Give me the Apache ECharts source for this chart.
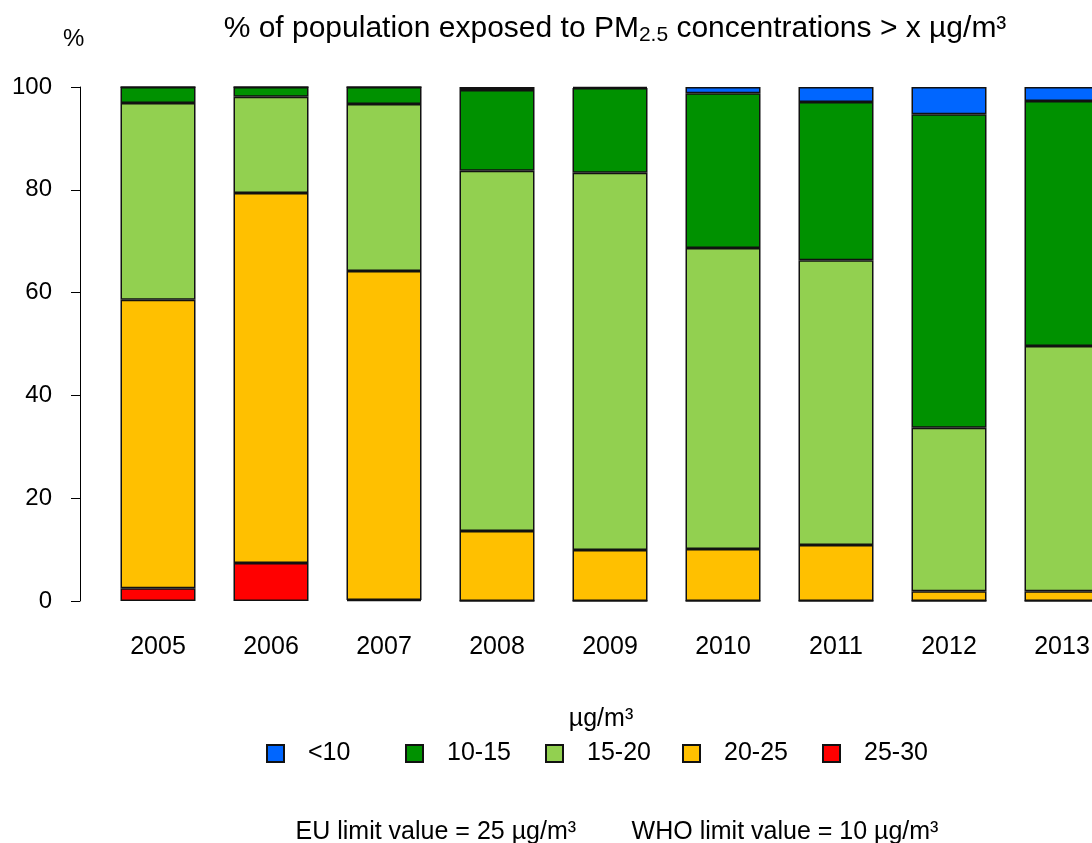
<!DOCTYPE html>
<html><head><meta charset="utf-8">
<script src="https://cdn.jsdelivr.net/npm/echarts@6/dist/echarts.min.js"></script>
<style>html,body{margin:0;padding:0;background:#fff;overflow:hidden}#c{width:1120px;height:843px}</style>
</head><body><div id="c"></div>
<script>
const years = ['2005','2006','2007','2008','2009','2010','2011','2012','2013'];
const seriesNames = ['<10','10-15','15-20','20-25','25-30'];
const lt10   = [0, 0, 0, 0.6, 0.2, 1.2, 2.9, 5.3, 2.7];
const r10_15 = [3.1, 1.9, 3.3, 15.7, 16.5, 30.1, 30.8, 61.0, 47.7];
const r15_20 = [38.3, 18.7, 32.5, 70.1, 73.4, 58.6, 55.4, 31.8, 47.7];
const r20_25 = [56.1, 72.0, 64.0, 13.6, 9.9, 10.1, 10.9, 1.9, 1.9];
const r25_30 = [2.5, 7.4, 0.2, 0, 0, 0, 0, 0, 0];
const yTicks = [0, 20, 40, 60, 80, 100];

const colors = {'<10':'#0066FF','10-15':'#009100','15-20':'#92D050','20-25':'#FFC000','25-30':'#FF0000'};
const dataByName = {'<10':lt10,'10-15':r10_15,'15-20':r15_20,'20-25':r20_25,'25-30':r25_30};
const font = 'Liberation Sans, Arial, sans-serif';

const stackOrder = ['25-30','20-25','15-20','10-15','<10'];
const series = stackOrder.map(n => ({
  name: n, type: 'bar', stack: 'all', barWidth: 75,
  data: dataByName[n],
  itemStyle: {color: colors[n], borderColor: '#111', borderWidth: 1.5},
  emphasis: {disabled: true}
}));

const legendLefts = [266, 405, 545, 682, 822];
const legends = seriesNames.map((n, i) => ({
  data: [n], left: legendLefts[i], top: 741, padding: 0, itemWidth: 17, itemHeight: 17,
  icon: 'rect', selectedMode: false,
  formatter: name => '{a|' + name + '}',
  textStyle: {fontSize: 25, color: '#000', fontFamily: font,
    rich: {a: {fontSize: 25, color: '#000', fontFamily: font, padding: [0, 0, 0, 19]}}}
}));

const chart = echarts.init(document.getElementById('c'), null, {renderer: 'canvas'});
chart.setOption({
  animation: false,
  backgroundColor: '#fff',
  textStyle: {fontFamily: font},
  title: [
    {text: '% of population exposed to PM{sub|2.5} concentrations > x µg/m³', left: 610, textAlign: 'center', top: 6,
     textStyle: {fontSize: 30, fontWeight: 'normal', color: '#000', fontFamily: font,
       rich: {sub: {fontSize: 21, verticalAlign: 'bottom', padding: [14,0,0,0], color: '#000', fontFamily: font}}}},
    {text: '%', left: 58, top: 22, textStyle: {fontSize: 24, fontWeight: 'normal', color: '#000', fontFamily: font}},
    {text: 'µg/m³', left: 596, textAlign: 'center', top: 702, textStyle: {fontSize: 25, fontWeight: 'normal', color: '#000', fontFamily: font}},
    {text: 'EU limit value = 25 µg/m³        WHO limit value = 10 µg/m³', left: 612, textAlign: 'center', top: 815,
     textStyle: {fontSize: 25, fontWeight: 'normal', color: '#000', fontFamily: font}}
  ],
  legend: legends,
  grid: {left: 101.5, right: 1.5, top: 87, bottom: 242},
  xAxis: {
    type: 'category', data: years,
    axisLine: {show: false}, axisTick: {show: false},
    axisLabel: {fontSize: 25, color: '#000', margin: 34, fontFamily: font}
  },
  yAxis: {
    type: 'value', min: 0, max: 100, interval: 20, offset: 21.5,
    splitLine: {show: false},
    axisLine: {show: true, lineStyle: {color: '#000', width: 1}},
    axisTick: {show: true, length: 9, lineStyle: {color: '#000'}},
    axisLabel: {fontSize: 24, color: '#000', margin: 28, fontFamily: font,
      formatter: v => yTicks.includes(v) ? String(v) : ''}
  },
  series: series
});
</script></body></html>
